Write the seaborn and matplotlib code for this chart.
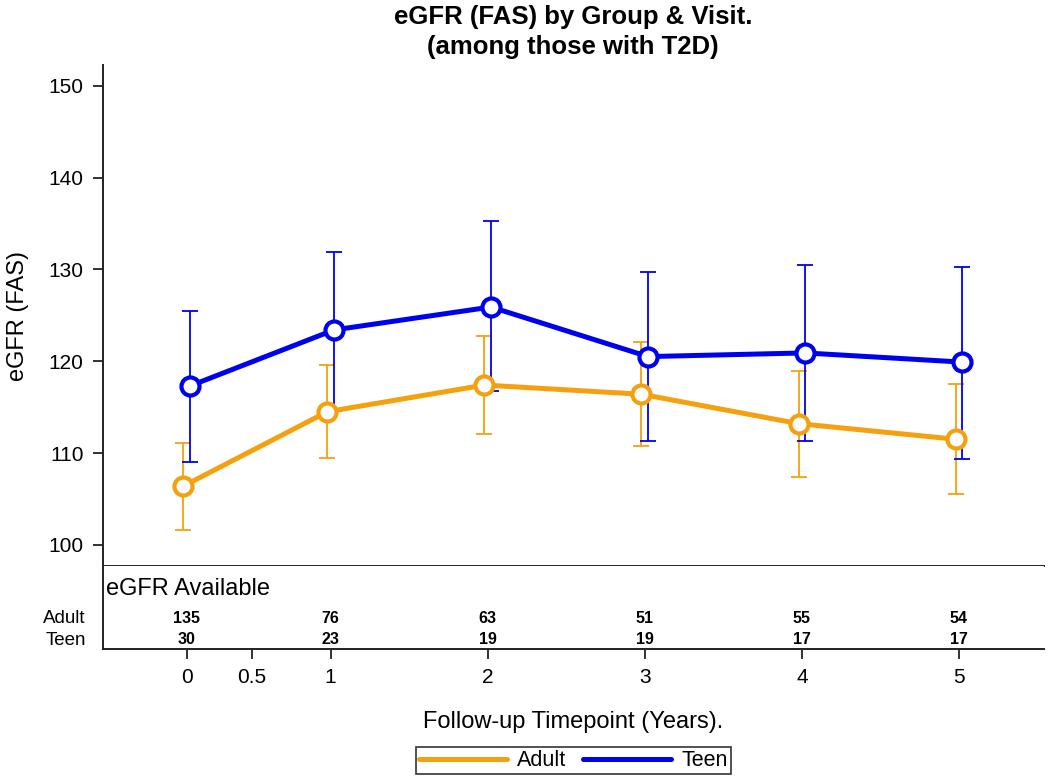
import numpy as np
import pandas as pd
import matplotlib
matplotlib.use("Agg")
import matplotlib.pyplot as plt
import seaborn as sns

# data
timepoints = [0.083, 1, 2, 3, 4, 5]
tick_pos = [0.083, 0.5, 1, 2, 3, 4, 5]
tick_labels = ["0", "0.5", "1", "2", "3", "4", "5"]

adult_mean = [106.4, 114.5, 117.4, 116.4, 113.2, 111.5]
adult_lo = [101.6, 109.5, 112.1, 110.8, 107.4, 105.5]
adult_hi = [111.1, 119.6, 122.7, 122.1, 118.9, 117.5]

teen_mean = [117.3, 123.4, 125.9, 120.5, 120.9, 119.9]
teen_lo = [109.0, 114.6, 116.7, 111.3, 111.3, 109.4]
teen_hi = [125.5, 131.9, 135.3, 129.7, 130.5, 130.3]

adult_n = [135, 76, 63, 51, 55, 54]
teen_n = [30, 23, 19, 19, 17, 17]

groups = ["Adult", "Teen"]
colors = {"Adult": "#F5A00F", "Teen": "#0000F0"}
shift = {"Adult": -0.021, "Teen": 0.021}

df = pd.concat([
    pd.DataFrame({"Year": timepoints, "eGFR": adult_mean, "lo": adult_lo, "hi": adult_hi, "Group": "Adult"}),
    pd.DataFrame({"Year": timepoints, "eGFR": teen_mean, "lo": teen_lo, "hi": teen_hi, "Group": "Teen"}),
])
df["x"] = df["Year"] + df["Group"].map(shift)

sns.set_style("white")
plt.rcParams["font.family"] = ["Liberation Sans", "DejaVu Sans"]
plt.rcParams["text.color"] = "black"
plt.rcParams["axes.labelcolor"] = "black"
plt.rcParams["xtick.color"] = "#222222"
plt.rcParams["ytick.color"] = "#222222"
plt.rcParams["xtick.labelcolor"] = "black"
plt.rcParams["ytick.labelcolor"] = "black"

fig = plt.figure(figsize=(10.5, 7.77), dpi=100)
ax = fig.add_axes([0.098, 0.2716, 0.896, 0.6447])
axt = fig.add_axes([0.098, 0.1647, 0.896, 0.1069], sharex=ax)

# error bars first, then lines with open markers on top
for g in groups:
    sub = df[df["Group"] == g]
    ax.errorbar(sub["x"], sub["eGFR"],
                yerr=[sub["eGFR"] - sub["lo"], sub["hi"] - sub["eGFR"]],
                fmt="none", ecolor=colors[g], elinewidth=1.3, capsize=6, capthick=1.3, zorder=2)
    sns.lineplot(data=sub, x="x", y="eGFR", color=colors[g], ax=ax,
                 linewidth=3.6, marker="o", markersize=13, markerfacecolor="white",
                 markeredgecolor=colors[g], markeredgewidth=3, zorder=3,
                 sort=False, estimator=None)

ax.set_xlim(-0.45, 5.54)
ax.set_ylim(97.7, 152.25)
ax.set_yticks([100, 110, 120, 130, 140, 150])
ax.tick_params(axis="y", direction="out", length=7, width=1.3, labelsize=15, pad=7, left=True)
ax.tick_params(axis="x", bottom=False, labelbottom=False)
ax.set_xlabel("")
ax.set_ylabel("eGFR (FAS)", fontsize=17, labelpad=14)
for s in ["top", "right"]:
    ax.spines[s].set_visible(False)
for s in ["left", "bottom"]:
    ax.spines[s].set_color("#222222")
    ax.spines[s].set_linewidth(1.4)

ax.set_title("eGFR (FAS) by Group & Visit.\n(among those with T2D)",
             fontsize=18.5, fontweight="bold", pad=8, linespacing=1.31)

# counts table below the plot
axt.set_ylim(0, 1)
axt.set_yticks([])
axt.text(0.003, 0.72, "eGFR Available", transform=axt.transAxes, fontsize=17, va="center", ha="left")
for x, a, t in zip(timepoints, adult_n, teen_n):
    axt.text(x, 0.37, str(a), ha="center", va="center", fontsize=11.5, fontweight="bold")
    axt.text(x, 0.12, str(t), ha="center", va="center", fontsize=11.5, fontweight="bold")
axt.text(-0.018, 0.37, "Adult", transform=axt.transAxes, ha="right", va="center", fontsize=13.5)
axt.text(-0.018, 0.10, "Teen", transform=axt.transAxes, ha="right", va="center", fontsize=13.5)
axt.set_xticks(tick_pos)
axt.set_xticklabels(tick_labels)
axt.tick_params(axis="x", direction="out", length=7, width=1.3, labelsize=15, bottom=True, pad=7)
axt.set_xlabel("Follow-up Timepoint (Years).", fontsize=17, labelpad=17)
for s in ["top", "right"]:
    axt.spines[s].set_visible(False)
for s in ["left", "bottom"]:
    axt.spines[s].set_color("#222222")
    axt.spines[s].set_linewidth(1.4)

handles = [plt.Line2D([], [], color=colors[g], linewidth=3.6) for g in groups]
leg = fig.legend(handles, groups, loc="center", bbox_to_anchor=(0.546, 0.021), ncol=2,
                 fontsize=15.5, frameon=True, fancybox=False, edgecolor="black",
                 handlelength=4.1, columnspacing=0.75, borderpad=0.15,
                 handletextpad=0.47, borderaxespad=0)
leg.get_frame().set_linewidth(1.2)

fig.savefig("out.png", dpi=100)
